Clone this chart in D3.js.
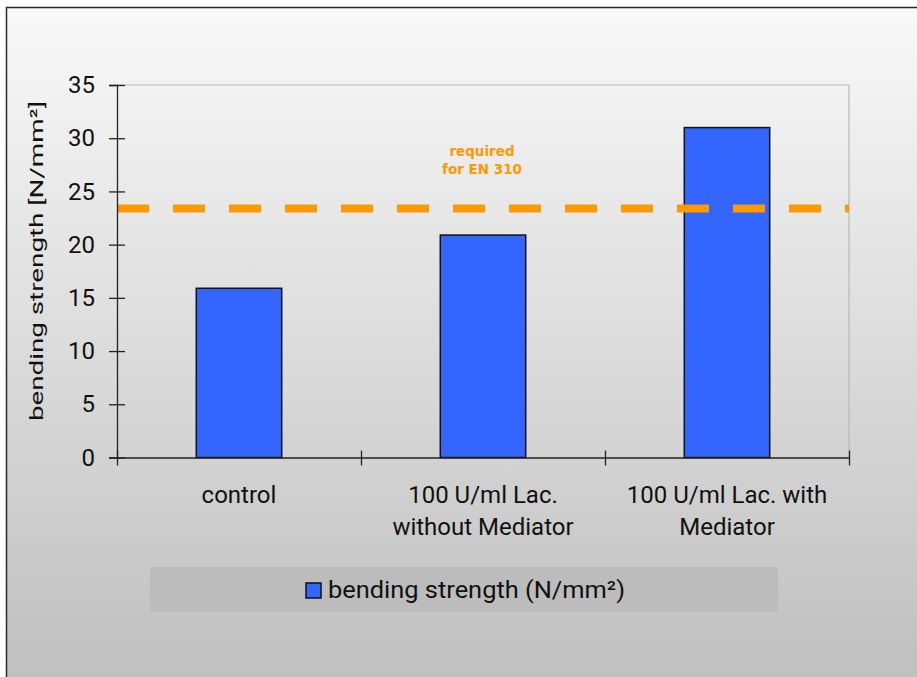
<!DOCTYPE html>
<html>
<head>
<meta charset="utf-8">
<script src="https://cdn.jsdelivr.net/npm/d3@7"></script>
<style>
  html, body { margin: 0; padding: 0; background: #ffffff; }
  svg { display: block; }
  text { font-family: Roboto, "Liberation Sans", Arial, sans-serif; fill: #111; }
</style>
</head>
<body>
<svg id="chart" width="917" height="677"></svg>
<script>
// Chart data
const categories = [
  ["control"],
  ["100 U/ml Lac.", "without Mediator"],
  ["100 U/ml Lac. with", "Mediator"]
];
const seriesName = "bending strength (N/mm²)";
const bendingStrength = [15.9, 20.9, 31.0];
const requiredValue = 23.4;
const requiredLabel = ["required", "for EN 310"];
const yTicks = [0, 5, 10, 15, 20, 25, 30, 35];
const yTitle = "bending strength [N/mm²]";

const svg = d3.select("#chart");
const W = 917, H = 677;

// Background panel with vertical grey gradient
const defs = svg.append("defs");
const grad = defs.append("linearGradient")
  .attr("id", "bg").attr("x1", 0).attr("y1", 0).attr("x2", 0).attr("y2", 1);
grad.append("stop").attr("offset", "0%").attr("stop-color", "#f9f9f9");
grad.append("stop").attr("offset", "100%").attr("stop-color", "#bdbdbd");

svg.append("rect")
  .attr("x", 6.5).attr("y", 7.5)
  .attr("width", W + 20).attr("height", H + 20)
  .attr("fill", "url(#bg)")
  .attr("stroke", "#2a2a2a").attr("stroke-width", 1.5);

// Plot area
const plot = { left: 117, right: 849, top: 85, bottom: 457.5 };

const x = d3.scaleBand()
  .domain(d3.range(categories.length))
  .range([plot.left, plot.right])
  .padding(0);

const y = d3.scaleLinear()
  .domain([0, 35])
  .range([plot.bottom, plot.top]);

// Light frame on top and right of the plot area
svg.append("path")
  .attr("d", `M${plot.left},${plot.top}H${plot.right}V${plot.bottom}`)
  .attr("fill", "none")
  .attr("stroke", "#b8b8b8")
  .attr("stroke-width", 1.2);

// Bars
const barFrac = 0.35;
svg.append("g").selectAll("rect")
  .data(bendingStrength)
  .join("rect")
  .attr("x", (d, i) => x(i) + x.bandwidth() * (1 - barFrac) / 2)
  .attr("width", x.bandwidth() * barFrac)
  .attr("y", d => y(d))
  .attr("height", d => y(0) - y(d))
  .attr("fill", "#3366ff")
  .attr("stroke", "#111")
  .attr("stroke-width", 1.5);

// Required threshold (dashed)
svg.append("line")
  .attr("x1", plot.left).attr("x2", plot.right)
  .attr("y1", y(requiredValue)).attr("y2", y(requiredValue))
  .attr("stroke", "#ff9900")
  .attr("stroke-width", 8)
  .attr("stroke-dasharray", "32,24");

svg.append("text")
  .attr("text-anchor", "middle")
  .style("font-family", "'DejaVu Sans', Verdana, sans-serif")
  .style("font-weight", "bold")
  .style("font-size", "13.5px")
  .style("fill", "#ff9900")
  .selectAll("tspan")
  .data(requiredLabel)
  .join("tspan")
  .attr("x", 482)
  .attr("y", (d, i) => 156 + i * 18)
  .text(d => d);

// Y axis
const yAxis = svg.append("g")
  .attr("transform", `translate(${plot.left},0)`)
  .call(d3.axisLeft(y).tickValues(yTicks).tickSize(8).tickPadding(14));
yAxis.select(".domain").attr("stroke", "#222").attr("stroke-width", 1.3);
yAxis.selectAll(".tick line").attr("x1", 8).attr("x2", -8)
  .attr("stroke", "#222").attr("stroke-width", 1.3);
yAxis.selectAll(".tick text")
  .attr("x", -22)
  .style("font-family", "Roboto, sans-serif")
  .style("font-size", "24px")
  .attr("fill", "#111");

// X axis: line with ticks on category boundaries
const xb = d3.scaleLinear().domain([0, categories.length]).range([plot.left, plot.right]);
const xAxis = svg.append("g")
  .attr("transform", `translate(0,${plot.bottom})`)
  .call(d3.axisBottom(xb).tickValues(d3.range(categories.length + 1)).tickFormat("").tickSizeOuter(0));
xAxis.select(".domain").attr("stroke", "#222").attr("stroke-width", 1.3);
xAxis.selectAll(".tick line").attr("y1", -7).attr("y2", 8)
  .attr("stroke", "#222").attr("stroke-width", 1.3);

// Category labels
svg.append("g").selectAll("text")
  .data(categories)
  .join("text")
  .attr("text-anchor", "middle")
  .style("font-size", "24px")
  .each(function (lines, i) {
    d3.select(this).selectAll("tspan")
      .data(lines)
      .join("tspan")
      .attr("x", x(i) + x.bandwidth() / 2)
      .attr("y", (d, j) => 503 + j * 32)
      .text(d => d);
  });

// Y axis title
svg.append("text")
  .attr("transform", "translate(43,261) rotate(-90)")
  .attr("text-anchor", "middle")
  .attr("textLength", 320)
  .attr("lengthAdjust", "spacingAndGlyphs")
  .style("font-size", "18.5px")
  .text(yTitle);

// Legend
const legend = svg.append("g");
legend.append("rect")
  .attr("x", 150).attr("y", 567)
  .attr("width", 628).attr("height", 45)
  .attr("fill", "#bcbcbc");
legend.append("rect")
  .attr("x", 306).attr("y", 583)
  .attr("width", 15).attr("height", 15)
  .attr("fill", "#3366ff")
  .attr("stroke", "#111").attr("stroke-width", 1.5);
legend.append("text")
  .attr("x", 328).attr("y", 598)
  .attr("textLength", 297)
  .attr("lengthAdjust", "spacingAndGlyphs")
  .style("font-size", "24px")
  .text(seriesName);
</script>
</body>
</html>
